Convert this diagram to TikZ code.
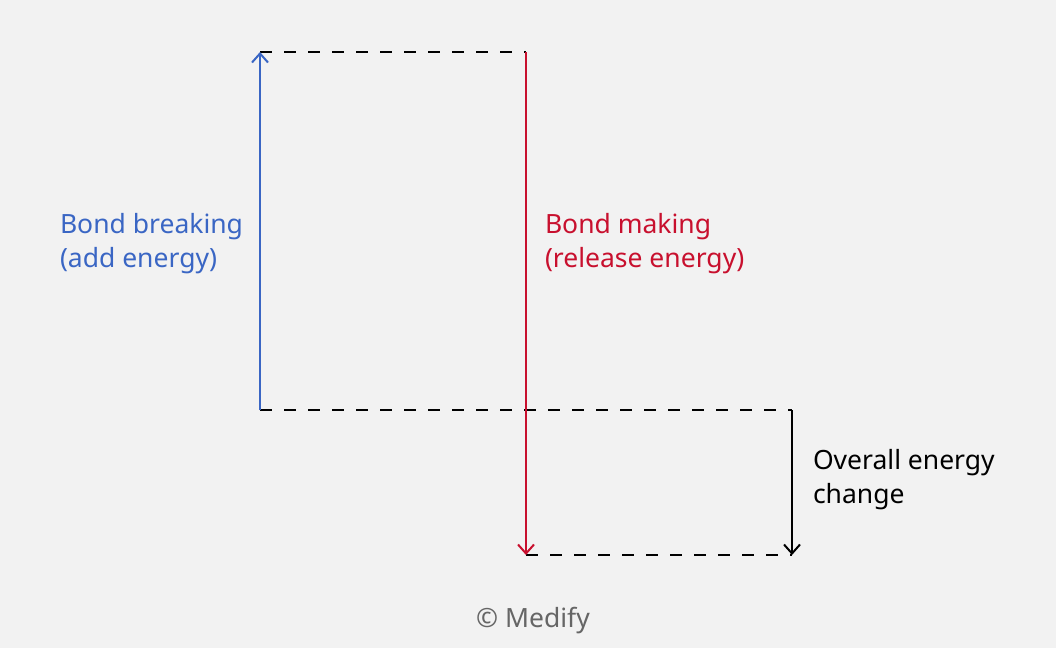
\documentclass[tikz,border=0pt]{standalone}
\usepackage{fontspec}
\setmainfont{Noto Sans}
\usetikzlibrary{arrows.meta,positioning}
\definecolor{breakblue}{RGB}{58,102,196}
\definecolor{makered}{RGB}{200,16,46}
\definecolor{bggray}{RGB}{242,242,242}
\definecolor{creditgray}{RGB}{102,102,102}

\begin{document}
\begin{tikzpicture}[x=1pt,y=-1pt,>={Straight Barb[length=9pt,width=16pt]},line width=2pt]
\tikzstyle{level} = [draw=black,line width=1.5pt,dash pattern=on 12pt off 12pt]
\tikzstyle{lbl} = [anchor=base west,inner sep=0pt,align=left,font=\fontsize{26.5}{34}\selectfont]
    \fill[bggray] (0,0) rectangle (1056,648);
    \useasboundingbox (0,0) rectangle (1056,648);

    \coordinate (brkbot) at (260,410);
    \coordinate (brktop) at (260,52);
    \coordinate (maktop) at (526,52);
    \coordinate (makbot) at (526,555);
    \coordinate (chgtop) at (792,410);
    \coordinate (chgbot) at (792,555);

    % base anchor sits on the last line
    \node[lbl,text=breakblue] (brklbl) at (59,267) {Bond breaking\\(add energy)};
    \node[lbl,text=makered] (maklbl) at (544,267) {Bond making\\(release energy)};
    \node[lbl,text=black] (chglbl) at (812,503) {Overall energy\\change};
    \node[anchor=base,inner sep=0pt,text=creditgray,font=\fontsize{26.5}{30}\selectfont] (credit) at (533,627) {© Medify};

    \draw[level] (brktop) -- (maktop);
    \draw[level] (brkbot) -- (chgtop);
    \draw[level] (makbot) -- (chgbot);

    \draw[->,breakblue] (brkbot) -- (brktop);
    \draw[->,makered] (maktop) -- (makbot);
    \draw[->,black] (chgtop) -- (chgbot);
\end{tikzpicture}
\end{document}
